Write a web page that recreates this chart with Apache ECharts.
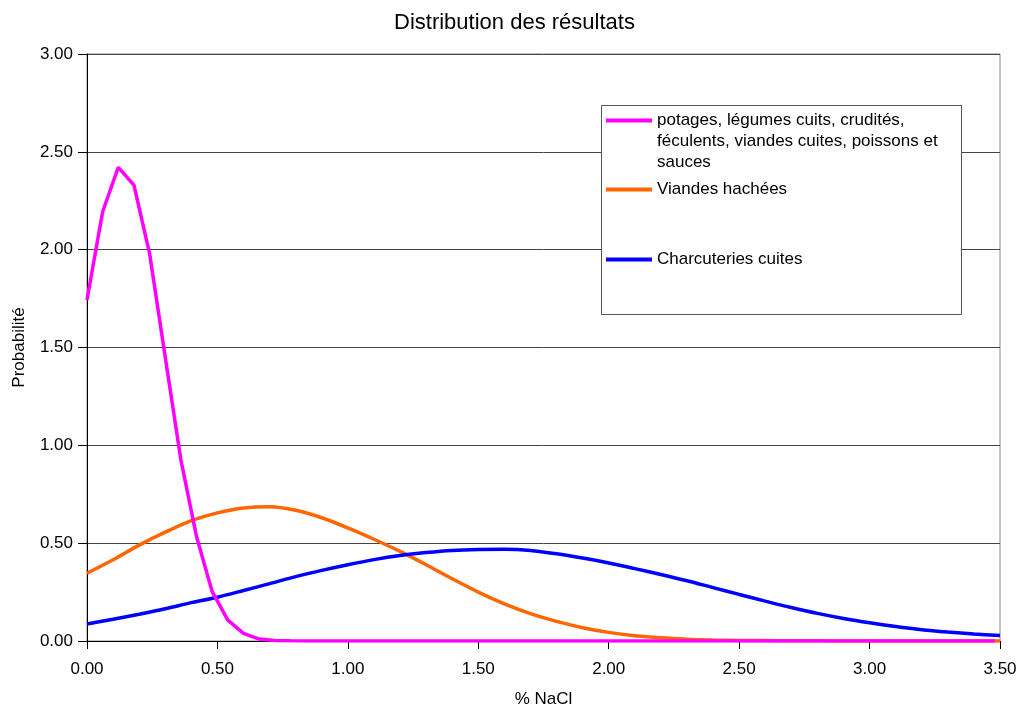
<!DOCTYPE html>
<html>
<head>
<meta charset="utf-8">
<script src="https://cdn.jsdelivr.net/npm/echarts@6/dist/echarts.min.js"></script>
<style>
  html, body { margin: 0; padding: 0; background: #fff; }
  #chart { width: 1023px; height: 711px; }
</style>
</head>
<body>
<div id="chart"></div>
<script>
// x grid (% NaCl) shared by the two wide curves
const nacl = [0.0, 0.1, 0.2, 0.3, 0.4, 0.5, 0.6, 0.7, 0.8, 0.9,
  1.0, 1.1, 1.2, 1.3, 1.4, 1.5, 1.6, 1.7, 1.8, 1.9,
  2.0, 2.1, 2.2, 2.3, 2.4, 2.5, 2.6, 2.7, 2.8, 2.9,
  3.0, 3.1, 3.2, 3.3, 3.4, 3.5];

const viandesHachees = [0.346, 0.415, 0.49, 0.556, 0.615, 0.655, 0.680, 0.686, 0.668, 0.630,
  0.578, 0.52, 0.458, 0.39, 0.318, 0.250, 0.190, 0.140, 0.100, 0.068,
  0.044, 0.027, 0.016, 0.009, 0.005, 0.003, 0.002, 0.001, 0.001, 0,
  0, 0, 0, 0, 0, 0];

const charcuteries = [0.087, 0.111, 0.137, 0.165, 0.196, 0.224, 0.258, 0.293, 0.329, 0.361,
  0.390, 0.416, 0.437, 0.452, 0.463, 0.468, 0.469, 0.463, 0.446, 0.424,
  0.399, 0.370, 0.340, 0.308, 0.273, 0.238, 0.204, 0.171, 0.141, 0.115,
  0.093, 0.074, 0.058, 0.046, 0.036, 0.028];

// narrow curve has its own x grid
const potagesX = [0, 0.06, 0.12, 0.18, 0.24, 0.30, 0.36, 0.42, 0.48, 0.54,
  0.60, 0.66, 0.72, 0.78, 0.84, 1.50, 2.50, 3.48];
const potagesY = [1.743, 2.194, 2.421, 2.33, 1.98, 1.45, 0.925, 0.533, 0.252, 0.107,
  0.039, 0.010, 0.003, 0.001, 0, 0, 0, 0];

const seriesNames = [
  "potages, légumes cuits, crudités, féculents, viandes cuites, poissons et sauces",
  "Viandes hachées",
  "Charcuteries cuites",
];
// two blank lines above the first entry keep its icon level with the first text line
const legendLabels = [
  " \n \npotages, légumes cuits, crudités,\nféculents, viandes cuites, poissons et\nsauces",
  "Viandes hachées",
  "Charcuteries cuites",
];
const colors = ["#ff00ff", "#ff6600", "#0000ff"];

const FONT = "'Liberation Sans', Arial, sans-serif";

function zip(xs, ys) {
  return xs.map((x, i) => [x, ys[i]]);
}

function legendAt(idx, top) {
  return {
    data: [seriesNames[idx]],
    left: 606,
    top: top,
    padding: 0,
    orient: "vertical",
    icon: "rect",
    itemWidth: 46,
    itemHeight: 4,
    selectedMode: false,
    z: 10,
    formatter: () => legendLabels[idx],
    textStyle: {
      fontFamily: FONT,
      fontSize: 17,
      lineHeight: 21,
      color: "#000",
    },
  };
}

const chart = echarts.init(document.getElementById("chart"), null, { renderer: "canvas" });

chart.setOption({
  animation: false,
  backgroundColor: "#fff",
  color: colors,
  title: {
    text: "Distribution des résultats",
    left: 394,
    top: 12,
    padding: 0,
    textStyle: { fontFamily: FONT, fontSize: 22, fontWeight: "normal", color: "#000" },
  },
  grid: {
    left: 87, right: 23, top: 54, bottom: 70,
    outerBoundsMode: "none",
    containLabel: false,
    show: true,
    borderColor: "#888",
    borderWidth: 1,
    backgroundColor: "transparent",
  },
  graphic: [
    {
      type: "rect",
      z: 5,
      shape: { x: 601.5, y: 105.5, width: 360, height: 209 },
      style: { fill: "#fff", stroke: "#555", lineWidth: 1 },
    },
  ],
  legend: [
    legendAt(0, 68),
    legendAt(1, 179),
    legendAt(2, 249),
  ],
  xAxis: {
    type: "value",
    min: 0,
    max: 3.5,
    interval: 0.5,
    name: "% NaCl",
    nameLocation: "middle",
    nameGap: 50,
    nameTextStyle: { fontFamily: FONT, fontSize: 17, color: "#000" },
    axisLine: { show: true, onZero: false, lineStyle: { color: "#000", width: 1 } },
    axisTick: { show: true, inside: false, length: 8, lineStyle: { color: "#000" } },
    axisLabel: {
      margin: 20,
      fontFamily: FONT,
      fontSize: 17,
      color: "#000",
      formatter: (v) => v.toFixed(2),
    },
    splitLine: { show: false },
  },
  yAxis: {
    type: "value",
    min: 0,
    max: 3,
    interval: 0.5,
    name: "Probabilité",
    nameLocation: "middle",
    nameGap: 59,
    nameTextStyle: { fontFamily: FONT, fontSize: 17, color: "#000" },
    axisLine: { show: true, lineStyle: { color: "#000", width: 1 } },
    axisTick: { show: true, inside: false, length: 9, lineStyle: { color: "#000" } },
    axisLabel: {
      margin: 14,
      fontFamily: FONT,
      fontSize: 17,
      color: "#000",
      formatter: (v) => v.toFixed(2),
    },
    splitLine: { show: true, lineStyle: { color: "#444", width: 1 } },
  },
  series: [
    {
      name: seriesNames[0],
      type: "line",
      data: zip(potagesX, potagesY),
      showSymbol: false,
      symbol: "none",
      lineStyle: { width: 3.5, color: colors[0] },
      z: 3,
    },
    {
      name: seriesNames[1],
      type: "line",
      data: zip(nacl, viandesHachees),
      showSymbol: false,
      symbol: "none",
      smooth: 0.3,
      lineStyle: { width: 3.5, color: colors[1] },
      z: 2,
    },
    {
      name: seriesNames[2],
      type: "line",
      data: zip(nacl, charcuteries),
      showSymbol: false,
      symbol: "none",
      smooth: 0.3,
      lineStyle: { width: 3.5, color: colors[2] },
      z: 2,
    },
  ],
});
</script>
</body>
</html>
